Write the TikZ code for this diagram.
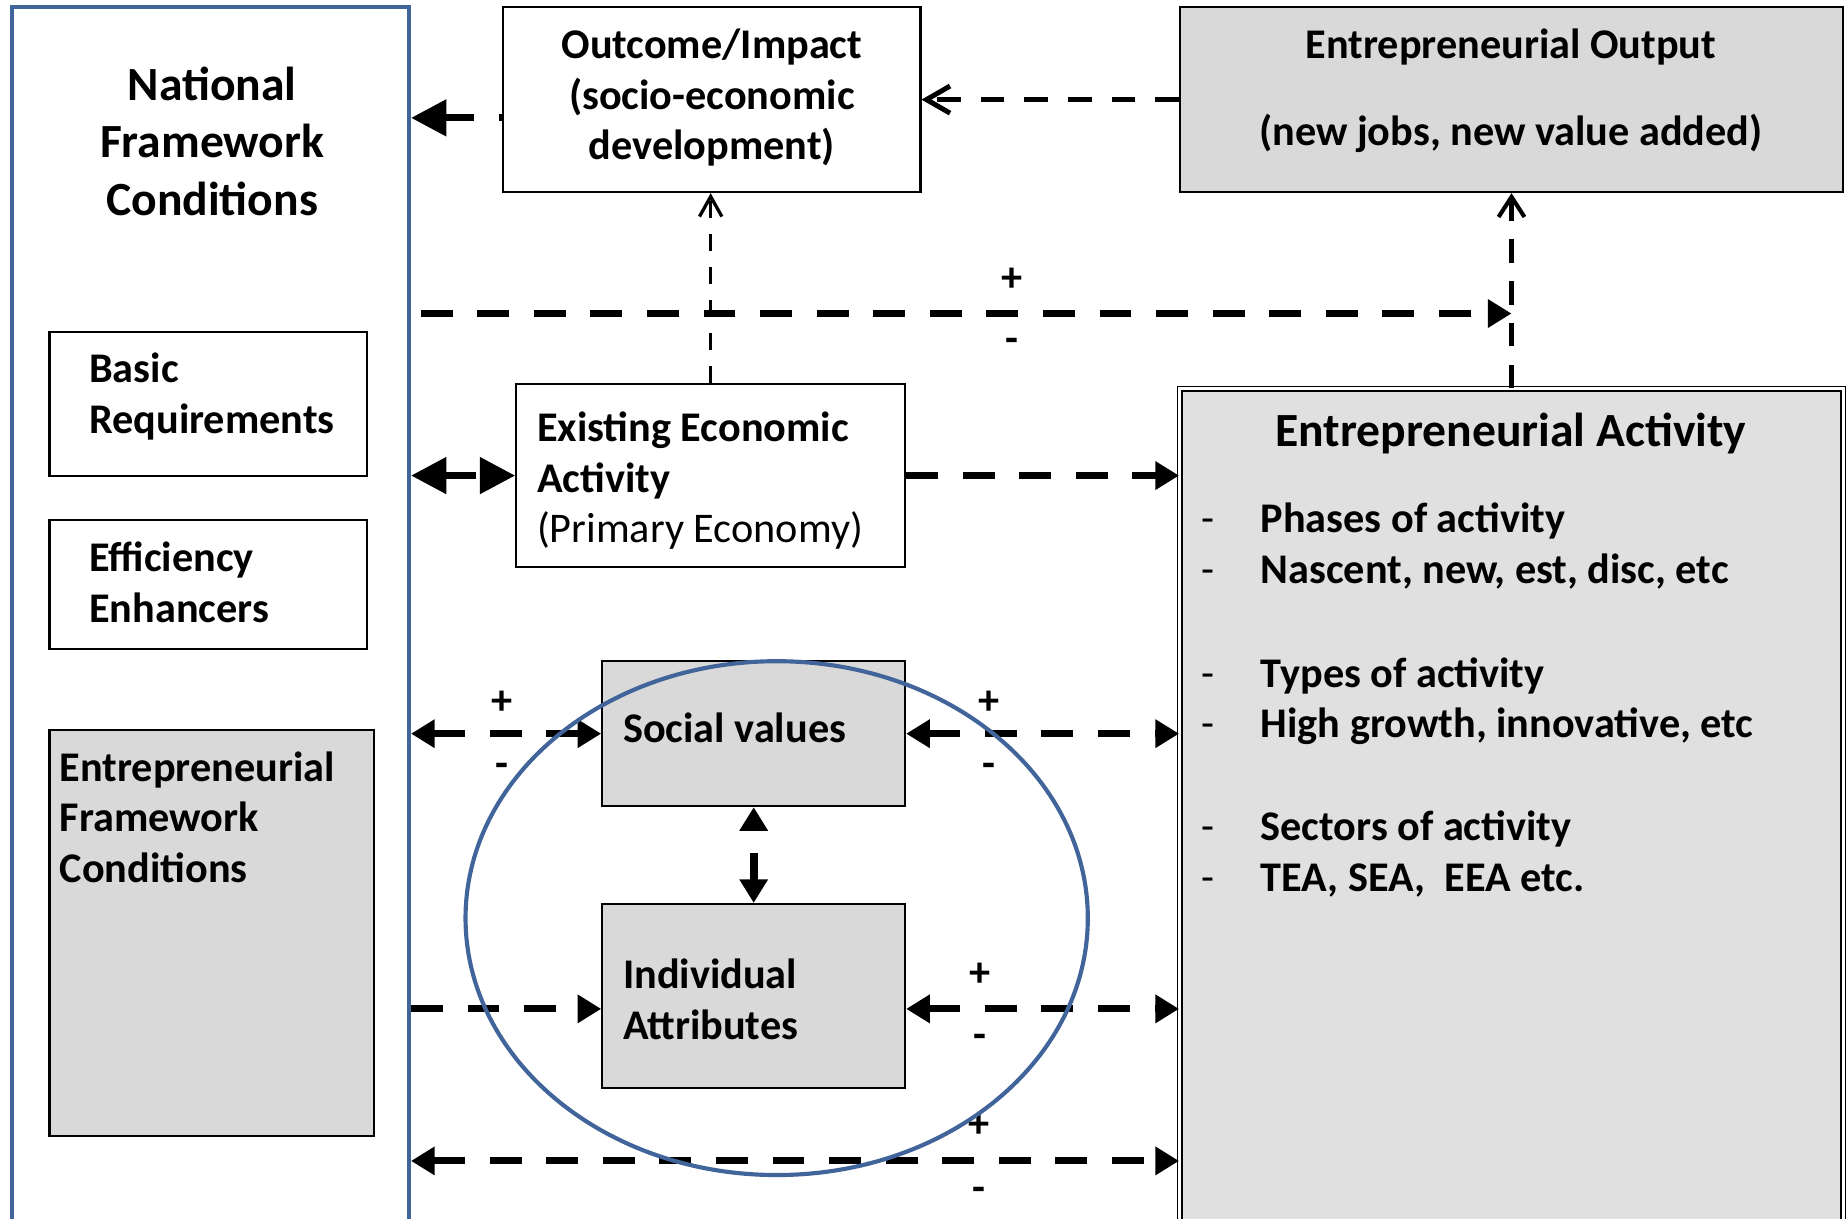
\documentclass[tikz,border=0pt]{standalone}
\usepackage{fontspec}
\setmainfont{Carlito}
\usetikzlibrary{arrows.meta,positioning}
\definecolor{nfcblue}{HTML}{41659A}
\definecolor{boxgrey}{HTML}{D9D9D9}
\definecolor{actgrey}{HTML}{E0E0E0}
\tikzset{
  box/.style={draw, line width=0.5pt, inner sep=0pt},
  grey/.style={box, fill=boxgrey},
  txt/.style={inner sep=0pt, align=left, font=\bfseries\fontsize{10.2}{12.2}\selectfont, execute at begin node=\strut},
  bigtxt/.style={txt, align=center, font=\bfseries\fontsize{11.5}{13.9}\selectfont},
  item/.style={inner sep=0pt, font=\bfseries\fontsize{10.2}{12.2}\selectfont},
  pm/.style={inner sep=0pt, font=\bfseries\fontsize{10.2}{12.2}\selectfont},
  flow/.style={line width=1.7pt, dash pattern=on 2.7mm off 2.1mm},
  bigtri/.tip={Triangle[length=3mm, width=3mm]},
  chev/.tip={Straight Barb[length=2mm, width=2.3mm]},
}

\begin{document}
\begin{tikzpicture}[x=0.1mm, y=-0.1mm, >={Triangle[length=2mm, width=2.3mm]}]
\useasboundingbox (0,0) rectangle (1568,1034);
\clip (0,0) rectangle (1568,1034);
% Boxes
    \node[box, draw=nfcblue, line width=1pt, minimum width=33.7mm, minimum height=103.9mm] (nfc) at (178.5,525.5) {};
    \node[box, minimum width=35.4mm, minimum height=15.7mm] (outcome) at (604,84.5) {};
    \node[grey, minimum width=56.3mm, minimum height=15.7mm] (output) at (1282.5,84.5) {};
    \node[box, minimum width=26.9mm, minimum height=12.2mm] (basic) at (176.5,343) {};
    \node[box, minimum width=26.9mm, minimum height=11mm] (effic) at (176.5,496) {};
    \node[grey, minimum width=27.5mm, minimum height=34.5mm] (efc) at (179.5,791.5) {};
    \node[box, minimum width=33mm, minimum height=15.5mm] (exist) at (603,403.5) {};
    \node[grey, minimum width=25.7mm, minimum height=12.3mm] (social) at (639.5,622.5) {};
    \node[grey, minimum width=25.7mm, minimum height=15.6mm] (indiv) at (639.5,845) {};
    \node[box, fill=actgrey, line width=0.35pt, double, double distance=0.25mm, minimum width=56.3mm, minimum height=71.5mm] (activity) at (1282.5,687.5) {};
% Texts
    \node[bigtxt, anchor=north] (nfctext) at (180,56) {National\\Framework\\Conditions};
    \node[txt, align=center, anchor=north] (outtext) at (604,24) {Outcome/Impact\\(socio-economic\\development)};
    \node[txt, align=center, anchor=north] (outputtext) at (1282,24) {Entrepreneurial Output\\[8.8pt](new jobs, new value added)};
    \node[txt, anchor=north west] (basictext) at (75,299) {Basic\\Requirements};
    \node[txt, anchor=north west] (effictext) at (75,459) {Efficiency\\Enhancers};
    \node[txt, anchor=north west] (efctext) at (50,637) {Entrepreneurial\\Framework\\Conditions};
    \node[txt, anchor=north west] (existtext) at (455,349) {Existing Economic\\Activity\\{\mdseries(Primary Economy)}};
    \node[txt, anchor=north west] (socialtext) at (528,599) {Social values};
    \node[txt, anchor=north west] (indivtext) at (528,813) {Individual\\Attributes};
    \node[bigtxt, anchor=north] (acttitle) at (1282,344) {Entrepreneurial Activity};
% Activity list
    \foreach \i/\y/\t in {1/452/Phases of activity, 2/495/{Nascent, new, est, disc, etc},
                          3/583/Types of activity, 4/626/{High growth, innovative, etc},
                          5/713/Sectors of activity, 6/756/{TEA, SEA,\ \ EEA etc.}}{
        \node[item, font=\fontsize{10.2}{12.2}\selectfont, anchor=base west] (bullet\i) at (1019,\y) {-};
        \node[item, anchor=base west] (item\i) at (1069,\y) {\t};
    }
% Links
    \coordinate (r1) at (0,100);
    \coordinate (r2) at (357,266);
    \coordinate (r3) at (0,856);
    \coordinate (r4) at (0,985);
    \draw[flow, dash phase=2.4mm, -bigtri] (outcome.west |- r1) -- (nfc.east |- r1);
    \draw[line width=1.2pt, dash pattern=on 2mm off 1.7mm, -chev] (output.west) -- (outcome.east);
    \draw[line width=0.8pt, dash pattern=on 1.5mm off 1.3mm, -{Straight Barb[length=1.7mm, width=1.9mm]}] (exist.north) -- (exist.north |- outcome.south);
    \draw[line width=1pt, dash pattern=on 2mm off 1.55mm, -{Straight Barb[length=1.7mm, width=2.2mm]}] (activity.north) -- (output.south);
    \draw[flow, ->] (r2) -- (output.south |- r2)
        node[pm, pos=.542, yshift=2.9mm] (plus1) {+} node[pm, pos=.542, yshift=-2.7mm] (minus1) {-};
    \draw[flow, bigtri-bigtri] (nfc.east |- exist.west) -- (exist.west);
    \draw[flow, ->] (exist.east) -- (activity.west |- exist.east);
    \draw[flow, <->] (nfc.east |- social.west) -- (social.west)
        node[pm, pos=.48, yshift=2.6mm] (plus2) {+} node[pm, pos=.48, yshift=-3.1mm] (minus2) {-};
    \draw[flow, <->] (social.east) -- (activity.west |- social.east)
        node[pm, pos=.305, yshift=2.6mm] (plus3) {+} node[pm, pos=.305, yshift=-3.1mm] (minus3) {-};
    \draw[line width=2pt, dash pattern=on 2.5mm off 2mm, dash phase=2.5mm, <->] (social.south) -- (social.south |- indiv.north);
    \draw[flow, ->] (nfc.east |- r3) -- (indiv.west |- r3);
    \draw[flow, <->] (indiv.east |- r3) -- (activity.west |- r3)
        node[pm, pos=.27, yshift=2.9mm] (plus4) {+} node[pm, pos=.27, yshift=-2.8mm] (minus4) {-};
    \draw[flow, <->] (nfc.east |- r4) -- (activity.west |- r4)
        node[pm, pos=.74, yshift=3mm] (plus5) {+} node[pm, pos=.74, yshift=-2.8mm] (minus5) {-};
% Ring
    \draw[nfcblue, line width=1pt] (659,779) ellipse [x radius=26.4mm, y radius=21.8mm];
\end{tikzpicture}
\end{document}
